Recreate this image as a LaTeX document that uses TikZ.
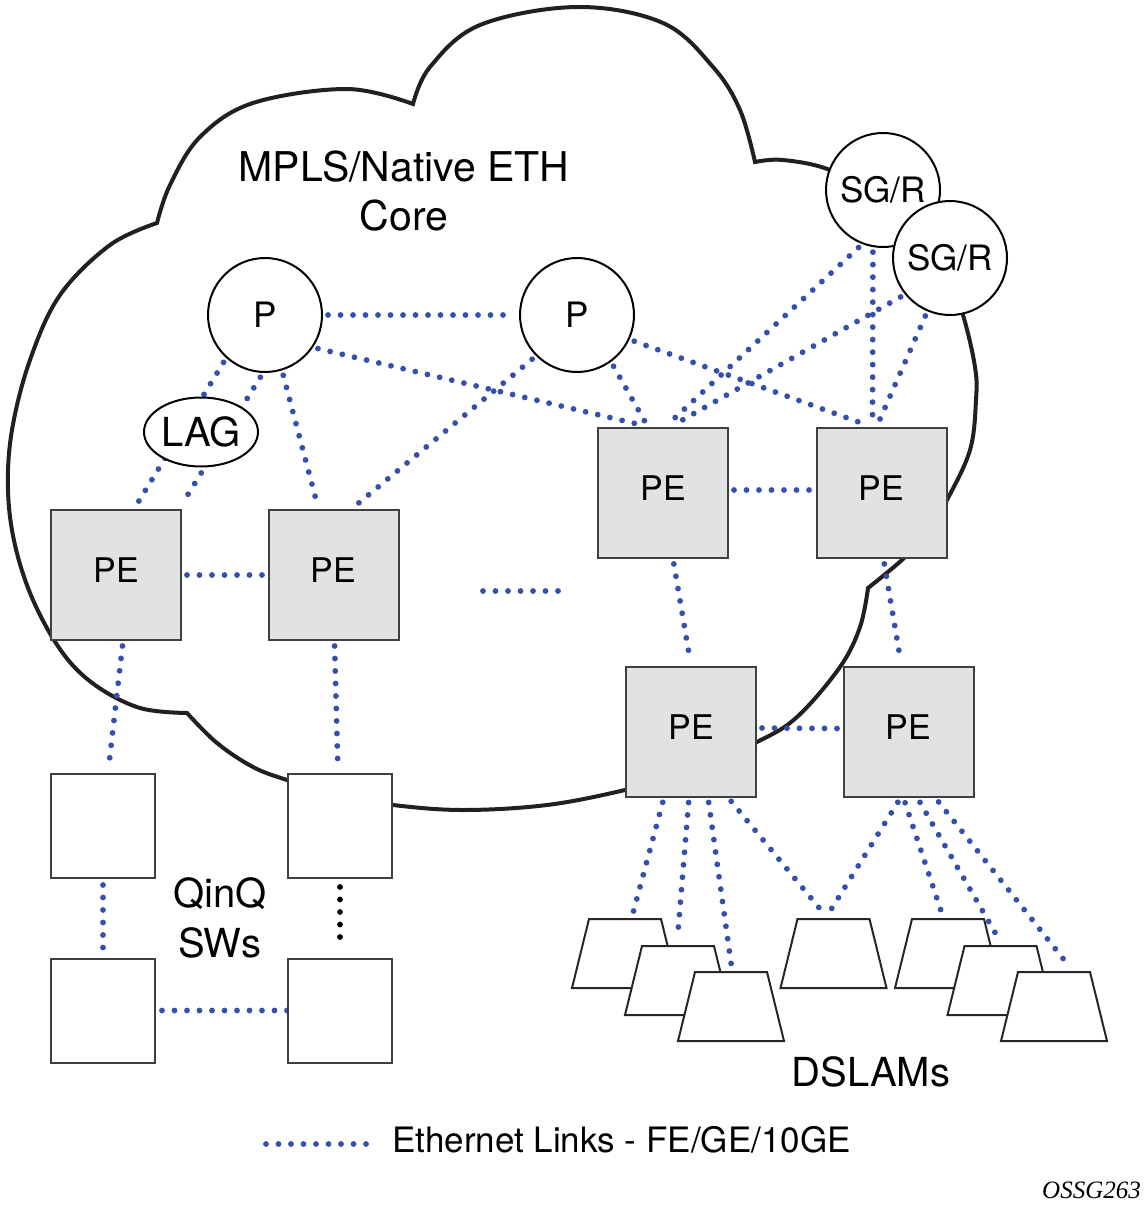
\documentclass[tikz,border=0pt]{standalone}
\usepackage{fontspec}
\setmainfont{TeX Gyre Heros}
\newfontfamily\ossgfont{Liberation Serif}
\usetikzlibrary{shapes.geometric,calc,backgrounds}
\definecolor{ethblue}{RGB}{52,80,172}
\definecolor{pefill}{RGB}{225,226,228}
\definecolor{boxline}{RGB}{64,64,64}
\definecolor{cloudline}{RGB}{35,31,32}
\tikzset{
  eth/.style={draw=ethblue, line width=5.8pt, line cap=round, dash pattern=on 0pt off 12.5pt},
  ethlink/.style={eth, shorten <=5pt, shorten >=5pt},
  blackdots/.style={draw=black, line width=5.8pt, line cap=round, dash pattern=on 0pt off 12.5pt, shorten <=8pt, shorten >=8pt},
  pebox/.style={rectangle, draw=boxline, fill=pefill, line width=2pt, minimum width=130pt, minimum height=130pt, inner sep=0pt, font=\fontsize{34}{40}\selectfont, text depth=9pt},
  qbox/.style={rectangle, draw=boxline, fill=white, line width=2pt, minimum size=104pt, inner sep=0pt},
  router/.style={circle, draw=black, fill=white, line width=2pt, minimum size=114pt, inner sep=0pt, font=\fontsize{35}{40}\selectfont},
  lagnode/.style={ellipse, draw=black, fill=white, line width=2pt, minimum width=114pt, minimum height=69pt, inner sep=0pt, font=\fontsize{40}{46}\selectfont},
  dslam/.style={rectangle, minimum width=110pt, minimum height=73pt, inner sep=0pt,
    path picture={\draw[draw=black!85, fill=white, line width=2pt]
      ([xshift=2pt,yshift=2pt]path picture bounding box.south west) --
      ([xshift=-2pt,yshift=2pt]path picture bounding box.south east) --
      ([xshift=-19pt,yshift=-2pt]path picture bounding box.north east) --
      ([xshift=19pt,yshift=-2pt]path picture bounding box.north west) -- cycle;}},
  cloud/.style={draw=cloudline, line width=4pt, line join=miter},
  lbl/.style={inner sep=0pt, font=\fontsize{40}{50}\selectfont, align=center}
}
\begin{document}
\begin{tikzpicture}[x=1pt, y=-1pt]
\useasboundingbox (0,0) rectangle (1145,1209);

% nodes
\node[router] (P1) at (265,315) {P};
\node[router] (P2) at (577,315) {P};
\node[router] (SG1) at (883,190) {SG/R};
\node[router] (SG2) at (950,258) {SG/R};
\node[lagnode] (LAG) at (201,432) {LAG};

\node[pebox] (PE1) at (116,575) {PE};
\node[pebox] (PE2) at (333.5,575) {PE};
\node[pebox] (PE3) at (663,493) {PE};
\node[pebox] (PE4) at (881.5,493) {PE};
\node[pebox] (PE5) at (691,731.5) {PE};
\node[pebox] (PE6) at (908.5,732) {PE};

\node[qbox] (Q1) at (103,826) {};
\node[qbox] (Q2) at (340,826) {};
\node[qbox] (Q3) at (103,1010.5) {};
\node[qbox] (Q4) at (340,1010.5) {};

\node[dslam] (D1) at (625,953.5) {};
\node[dslam] (D2) at (678,980.5) {};
\node[dslam] (D3) at (731,1006.5) {};
\node[dslam] (D4) at (833.5,953.5) {};
\node[dslam] (D5) at (948,953.5) {};
\node[dslam] (D6) at (1000.5,980.5) {};
\node[dslam] (D7) at (1054,1006.5) {};

\begin{pgfonlayer}{background}
% cloud outline
\draw[cloud]
  plot[smooth,tension=0.6] coordinates {(187,713) (140,708) (95,685) (62,652) (33,600) (15,545) (8,490) (12,430) (30,360) (60,295) (110,245) (157,223)}
  -- plot[smooth,tension=0.6] coordinates {(157,223) (170,185) (200,137) (253,103) (347,89) (413,104)}
  -- plot[smooth,tension=0.6] coordinates {(413,104) (430,67) (480,25) (577,7) (663,23) (713,67) (740,110) (755,162)}
  -- plot[smooth,tension=0.6] coordinates {(755,162) (783,160) (830,170) (885,200) (945,265) (963,315) (975,367) (976,400) (970,450) (947,500) (928,532) (903,559) (868,588)}
  -- plot[smooth,tension=0.6] coordinates {(868,588) (860,627) (840,667) (797,717) (757,742) (690,772) (625,790) (547,805) (463,810) (393,805) (340,796) (287,780) (253,767) (217,743) (187,713)}
  -- cycle;

% links
\draw[ethlink] (P1.east) -- (P2.west);
\draw[ethlink] (P1.326) -- ($(PE3.north west)+(53,0)$);
\draw[ethlink] (P2.306) -- ($(PE3.north west)+(51,0)$);
\draw[ethlink] (P2.335.6) -- ($(PE4.north west)+(57,0)$);
\draw[ethlink] (SG1.249.7) -- ($(PE3.north west)+(68,0)$);
\draw[ethlink] (SG2.219.5) -- ($(PE3.north west)+(73,0)$);
\draw[ethlink] (SG1.260) -- ($(PE4.north west)+(57,0)$);
\draw[ethlink] (SG2.247) -- ($(PE4.north west)+(61,0)$);
\draw[ethlink] (P1.287.7) -- ($(PE2.north west)+(51,0)$);
\draw[ethlink] (P2.225) -- ($(PE2.north west)+(84,0)$);
\draw[ethlink] (P1.228.8) -- ($(PE1.north west)+(84,0)$);
\draw[ethlink] (P1.268) -- ($(PE1.north west)+(129,0)$);
\draw[ethlink] (PE1.east) -- (PE2.west);
\draw[ethlink] ($(PE3.east)+(0,-3)$) -- ($(PE4.west)+(0,-3)$);
\draw[ethlink] ($(PE3.south west)+(76,0)$) -- ($(PE5.north west)+(66,0)$);
\draw[ethlink] ($(PE4.south west)+(68,0)$) -- ($(PE6.north west)+(59,0)$);
\draw[ethlink] ($(PE5.east)+(0,-3.5)$) -- ($(PE6.west)+(0,-3.5)$);
\draw[ethlink] ($(PE1.south west)+(73,0)$) -- ($(Q1.north west)+(58,0)$);
\draw[ethlink] ($(PE2.south west)+(67,0)$) -- ($(Q2.north west)+(51,0)$);
\draw[ethlink, shorten <=6pt, shorten >=6pt] (Q1.south) -- (Q3.north);
\draw[ethlink, shorten <=6pt, shorten >=0pt] (Q3.east) -- (Q4.west);
\draw[blackdots] (Q2.south) -- (Q4.north);
% PE to DSLAMs
\draw[ethlink] ($(PE5.south west)+(39,0)$) -- ($(D1.north)+(7,0)$);
\draw[ethlink] ($(PE5.south west)+(64,0)$) -- ($(D2.north)+(-1,0)$);
\draw[ethlink] ($(PE5.south west)+(83,0)$) -- ($(D3.north)+(1,0)$);
\draw[ethlink] ($(PE5.south west)+(103,0)$) -- ($(D4.north)+(-7,0)$);
\draw[ethlink] ($(PE6.south west)+(58,0)$) -- ($(D4.north)+(-7,0)$);
\draw[ethlink] ($(PE6.south west)+(61,0)$) -- ($(D5.north)+(-5,0)$);
\draw[ethlink] ($(PE6.south west)+(75,0)$) -- ($(D6.north)+(1,0)$);
\draw[ethlink] ($(PE6.south west)+(93,0)$) -- ($(D7.north)+(18,0)$);
\end{pgfonlayer}

% ellipsis between PE groups
\coordinate (E1) at (483,591);
\coordinate (E2) at (558.5,591);
\draw[eth] (E1) -- (E2);

% labels
\node[lbl, font=\fontsize{41}{49}\selectfont] (core) at (404,191.5) {MPLS/Native ETH\\Core};
\node[lbl] (qinq) at (220,917.5) {QinQ\\SWs};
\node[lbl] (dslams) at (871,1072) {DSLAMs};

% legend
\coordinate (L1) at (266,1144);
\coordinate (L2) at (366.5,1144);
\draw[eth] (L1) -- (L2);
\node[anchor=west, inner sep=0pt, font=\fontsize{35}{40}\selectfont] (legend) at (392,1140) {Ethernet Links - FE/GE/10GE};
\node[anchor=east, inner sep=0pt, font=\ossgfont\itshape\fontsize{25}{29}\selectfont] (tag) at (1141,1190) {OSSG263};
\end{tikzpicture}
\end{document}
